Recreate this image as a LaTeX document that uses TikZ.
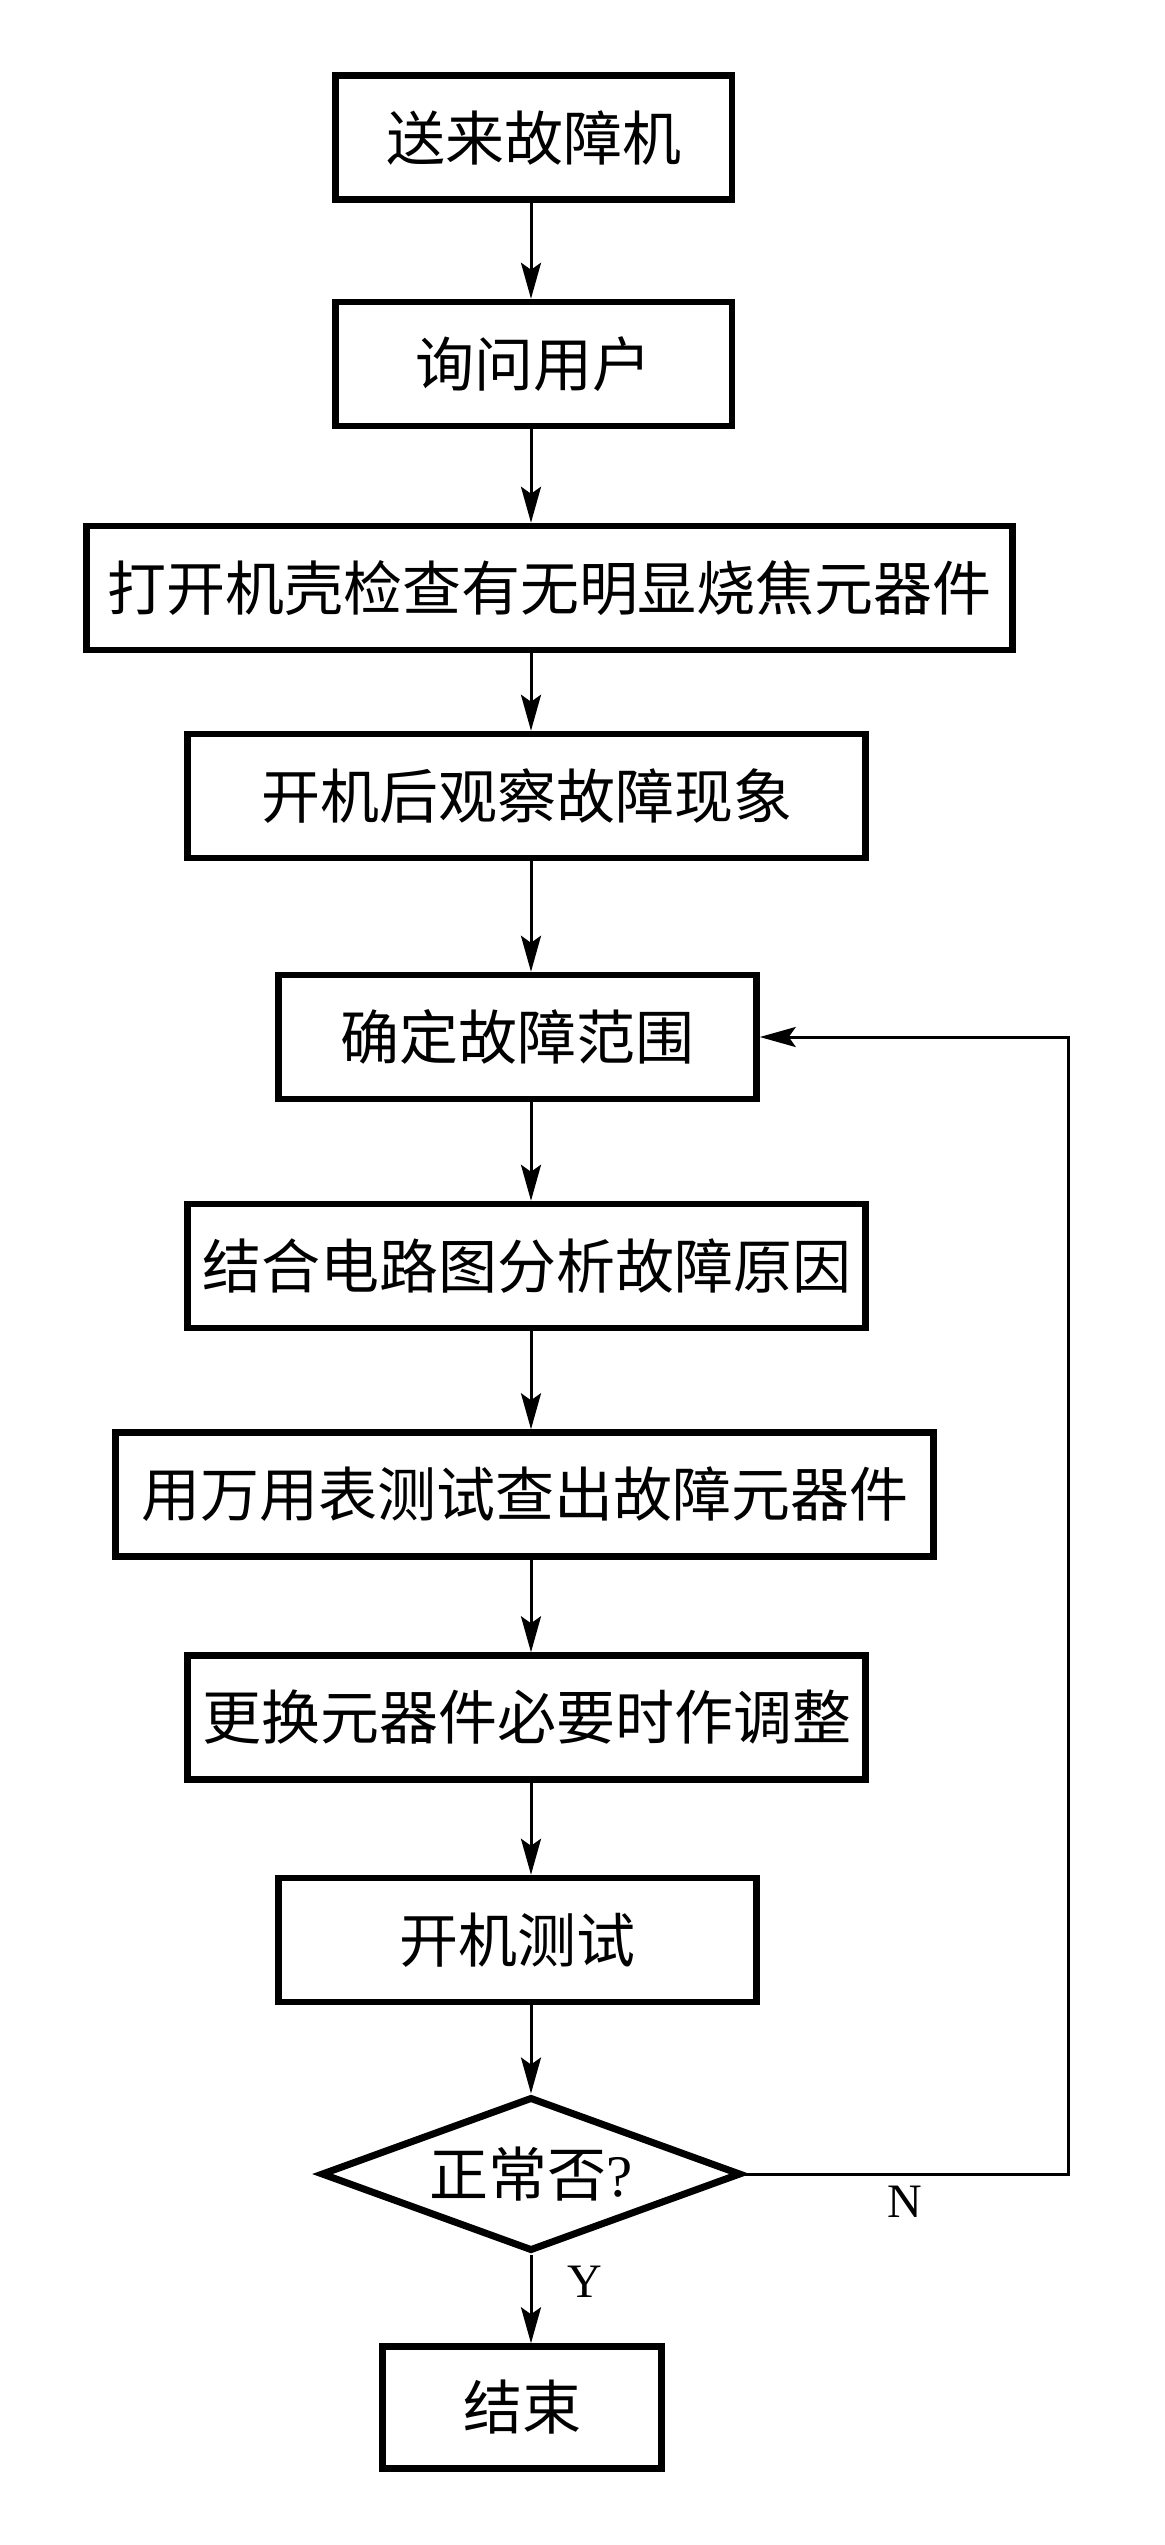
\documentclass[tikz,border=0pt]{standalone}
\usepackage{fontspec}
\setmainfont{Liberation Serif}
\newfontfamily\cjk{Noto Sans CJK SC}
\usetikzlibrary{arrows.meta,shapes.geometric}
\begin{document}
\begin{tikzpicture}[x=0.5pt,y=-0.5pt,
  box/.style={draw, line width=3.25pt, inner sep=0pt, minimum height=62pt,
    font=\cjk\fontsize{29.5}{32}\selectfont},
  dec/.style={draw, diamond, line width=3.5pt, inner sep=0pt, aspect=2.7,
    minimum width=210pt, minimum height=77pt, font=\cjk\fontsize{29.5}{32}\selectfont},
  conn/.style={line width=1.5pt, -{Stealth[length=18pt,width=10pt,inset=3.5pt]}},
  lbl/.style={font=\fontsize{24}{26}\selectfont, inner sep=0pt}
]
\useasboundingbox (0,0) rectangle (1165,2545);
\coordinate (spine) at (531,0);
\coordinate (fb) at (1068,0);

\node[box, minimum width=198.25pt] (b1) at (533.5,137.5) {送来故障机};
\node[box, minimum width=198.25pt] (b2) at (533.5,364) {询问用户};
\node[box, minimum width=463pt] (b3) at (549.5,588) {打开机壳检查有无明显烧焦元器件};
\node[box, minimum width=339pt] (b4) at (526.5,796) {开机后观察故障现象};
\node[box, minimum width=239pt] (b5) at (517.5,1037) {确定故障范围};
\node[box, minimum width=339pt] (b6) at (526.5,1266) {结合电路图分析故障原因};
\node[box, minimum width=409pt] (b7) at (524.5,1494.5) {用万用表测试查出故障元器件};
\node[box, minimum width=339pt] (b8) at (526.5,1717.5) {更换元器件必要时作调整};
\node[box, minimum width=239pt] (b9) at (517.5,1940) {开机测试};
\node[dec] (d) at (531,2174) {正常否{\rmfamily ?}};
\node[box, minimum width=139.5pt, minimum height=61pt] (b11) at (522,2407.5) {结束};

\draw[conn] (b1.south -| spine) -- (b2.north -| spine);
\draw[conn] (b2.south -| spine) -- (b3.north -| spine);
\draw[conn] (b3.south -| spine) -- (b4.north -| spine);
\draw[conn] (b4.south -| spine) -- (b5.north -| spine);
\draw[conn] (b5.south -| spine) -- (b6.north -| spine);
\draw[conn] (b6.south -| spine) -- (b7.north -| spine);
\draw[conn] (b7.south -| spine) -- (b8.north -| spine);
\draw[conn] (b8.south -| spine) -- (b9.north -| spine);
\draw[conn] (b9.south -| spine) -- (d.north);
\draw[conn] (d.south) -- (b11.north -| spine);
\draw[conn] (d.east) -- (fb |- d.east) -- (fb |- b5.east) -- (b5.east);

\node[lbl] (ln) at (905,2202) {N};
\node[lbl] (ly) at (585,2282) {Y};
\end{tikzpicture}
\end{document}
